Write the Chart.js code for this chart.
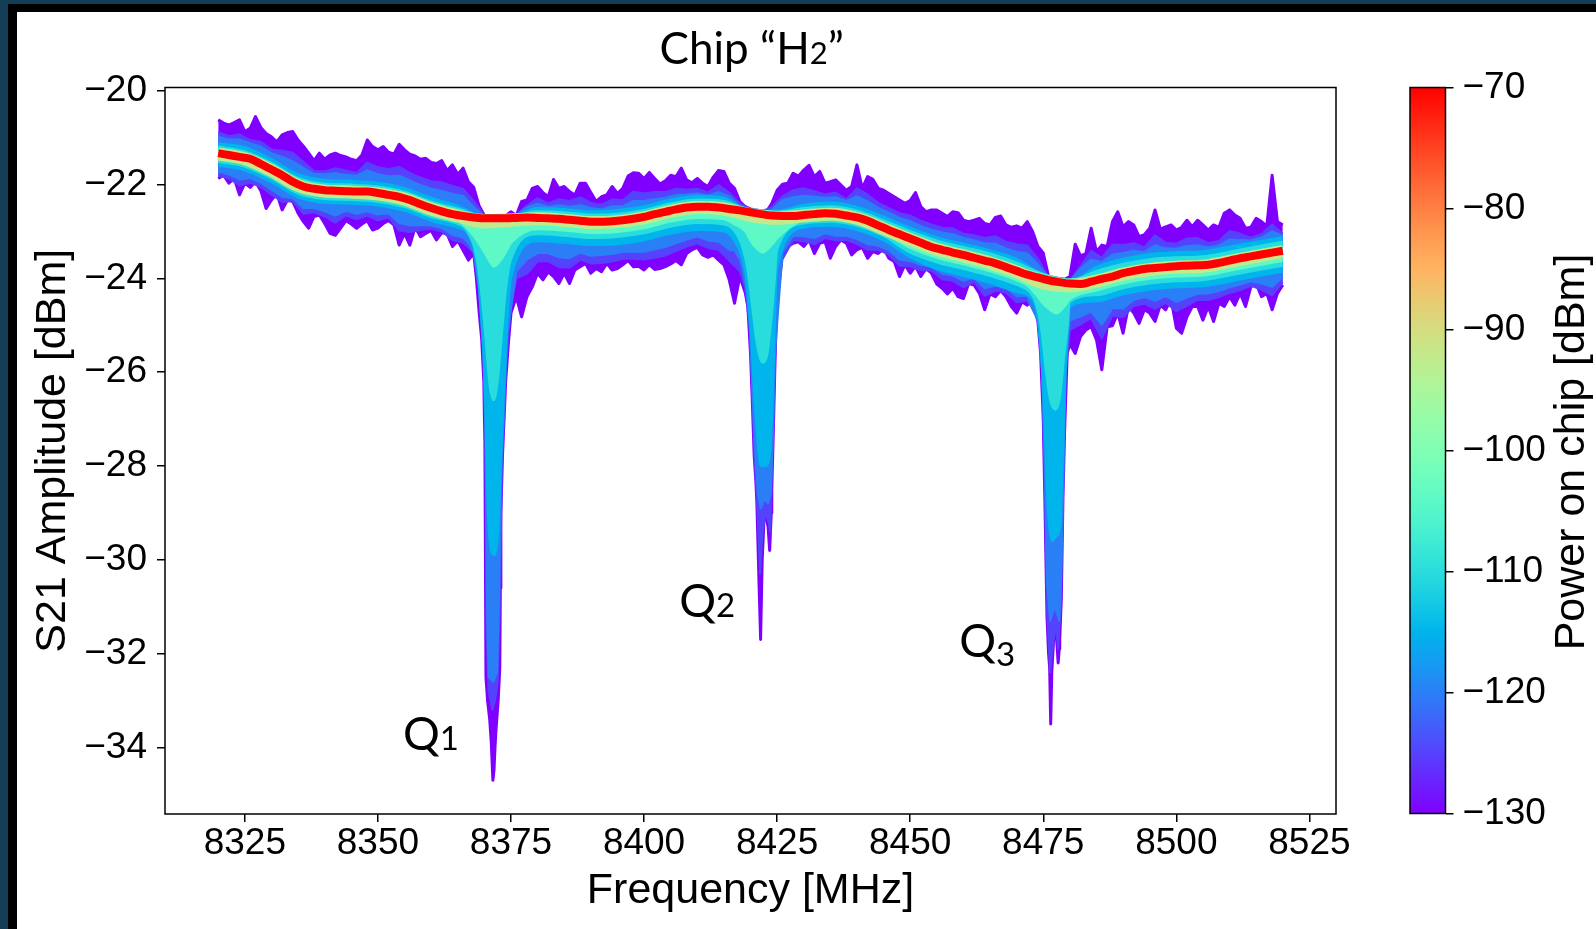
<!DOCTYPE html>
<html>
<head>
<meta charset="utf-8">
<script src="https://cdn.jsdelivr.net/npm/chart.js@4.4.1/dist/chart.umd.min.js"></script>
<style>
  html, body { margin: 0; padding: 0; background: #fff; }
  #page { position: relative; width: 1596px; height: 929px; overflow: hidden; background: #fff; }
  canvas { position: absolute; top: 0; }
  #main { left: 0; }
  #cbar { left: 1400px; }
  .edge { position: absolute; z-index: 5; }
</style>
</head>
<body>
<div id="page">
  <canvas id="main" width="1596" height="929"></canvas>
  <canvas id="cbar" width="196" height="929"></canvas>
  <div class="edge" style="left:0;top:0;width:1596px;height:4px;background:#143e55"></div>
  <div class="edge" style="left:0;top:0;width:8px;height:929px;background:#143e55"></div>
  <div class="edge" style="left:8px;top:4px;width:1588px;height:8px;background:#000"></div>
  <div class="edge" style="left:8px;top:4px;width:9px;height:925px;background:#000"></div>
</div>
<script>
// sweep starts at 8320 MHz; each array below is sampled every `step` MHz from there
const freqStart = 8320;
const xTicks = [8325, 8350, 8375, 8400, 8425, 8450, 8475, 8500, 8525];
const yTicks = [-34, -32, -30, -28, -26, -24, -22, -20];
const powerTicks = [-130, -120, -110, -100, -90, -80, -70];

// -130 dBm: upper / lower envelope of the noisy trace, 1 MHz steps
const hi130 = [
  -20.62,-20.69,-20.73,-20.68,-20.62,-20.87,-20.80,-20.55,-20.78,-20.91,
  -20.98,-21.09,-20.94,-20.89,-20.87,-21.05,-21.18,-21.33,-21.49,-21.33,
  -21.46,-21.37,-21.33,-21.38,-21.41,-21.46,-21.49,-21.37,-21.05,-21.19,
  -21.26,-21.19,-21.31,-21.35,-21.14,-21.26,-21.35,-21.39,-21.46,-21.44,
  -21.53,-21.55,-21.49,-21.70,-21.58,-21.78,-21.65,-21.94,-22.06,-22.45,
  -22.66,-22.66,-22.66,-22.67,-22.67,-22.58,-22.66,-22.36,-22.33,-22.08,
  -22.04,-22.17,-22.26,-21.89,-22.08,-22.04,-22.15,-22.22,-21.97,-21.97,
  -22.17,-22.36,-22.26,-22.22,-22.04,-22.19,-22.08,-21.82,-21.75,-21.76,
  -21.87,-21.74,-21.87,-21.99,-21.92,-21.80,-21.83,-21.65,-21.90,-21.96,
  -21.87,-21.97,-22.04,-21.84,-21.70,-21.72,-21.97,-22.08,-22.36,-22.47,
  -22.52,-22.54,-22.56,-22.58,-22.40,-22.12,-21.99,-21.97,-21.76,-21.82,
  -21.69,-21.59,-21.83,-21.72,-21.97,-21.94,-21.90,-22.01,-22.12,-22.04,
  -21.58,-22.08,-21.83,-21.89,-22.08,-22.12,-22.19,-22.26,-22.33,-22.40,
  -22.34,-22.17,-22.47,-22.58,-22.54,-22.54,-22.61,-22.68,-22.58,-22.60,
  -22.76,-22.79,-22.76,-22.72,-22.83,-22.86,-22.70,-22.67,-22.86,-22.91,
  -22.88,-22.93,-22.79,-23.00,-23.32,-23.46,-23.96,-23.98,-24.00,-24.02,
  -23.96,-23.27,-23.52,-23.47,-22.93,-23.43,-23.29,-23.32,-22.79,-22.58,
  -22.90,-22.79,-22.86,-23.11,-23.07,-22.93,-22.54,-22.95,-22.90,-22.86,
  -22.97,-22.91,-22.76,-22.90,-22.76,-22.86,-22.97,-22.86,-22.91,-22.61,
  -22.54,-22.65,-22.72,-22.93,-22.91,-22.72,-22.79,-22.88,-21.80,-22.79,
  -22.86
];
const lo130 = [
  -21.87,-21.80,-21.97,-21.87,-22.22,-21.97,-22.06,-21.94,-22.13,-22.51,
  -22.33,-22.19,-22.54,-22.33,-22.36,-22.61,-22.79,-22.93,-22.68,-22.65,
  -22.83,-23.04,-23.08,-22.93,-22.77,-22.84,-22.93,-22.84,-22.77,-22.97,
  -22.93,-22.83,-22.77,-22.86,-23.29,-23.04,-23.29,-22.91,-23.11,-23.04,
  -22.98,-23.18,-23.03,-23.05,-23.32,-23.20,-23.40,-23.61,-23.47,-24.70,
  -26.90,-33.40,-34.00,-30.60,-26.20,-24.74,-24.39,-24.82,-24.39,-24.18,
  -23.89,-24.03,-23.86,-23.96,-24.11,-23.89,-24.11,-23.82,-23.75,-23.68,
  -23.89,-23.79,-23.86,-23.68,-23.82,-23.79,-23.71,-23.62,-23.75,-23.74,
  -23.82,-23.71,-23.81,-23.79,-23.75,-23.69,-23.62,-23.71,-23.47,-23.39,
  -23.34,-23.50,-23.55,-23.50,-23.61,-23.71,-24.03,-24.53,-23.96,-24.30,
  -25.60,-28.30,-31.10,-29.10,-28.50,-24.50,-23.38,-23.32,-23.25,-23.22,
  -23.32,-23.18,-23.47,-23.25,-23.22,-23.57,-23.32,-23.18,-23.25,-23.50,
  -23.39,-23.34,-23.57,-23.43,-23.47,-23.36,-23.57,-23.64,-23.96,-23.71,
  -23.89,-23.74,-23.96,-23.79,-23.89,-24.12,-24.21,-24.33,-24.21,-24.39,
  -24.43,-24.11,-24.14,-24.32,-24.67,-24.33,-24.39,-24.26,-24.39,-24.60,
  -24.74,-24.50,-24.57,-24.43,-24.92,-27.00,-32.00,-31.60,-31.90,-27.30,
  -25.40,-25.60,-25.24,-25.10,-25.03,-25.31,-25.95,-25.03,-25.01,-24.74,
  -25.17,-24.60,-24.74,-24.96,-24.67,-24.74,-24.92,-24.57,-24.67,-24.43,
  -25.06,-25.17,-24.82,-24.60,-24.60,-24.89,-24.60,-24.92,-24.53,-24.60,
  -24.39,-24.57,-24.32,-24.60,-24.18,-24.11,-24.39,-24.32,-24.67,-24.32,
  -24.14
];
// extra points inside the three resonances [MHz, dB]
const dip130 = [
  [8368.5,-24.0],[8369.5,-25.3],[8369.9,-26.2],[8370.1,-27.5],[8370.3,-32.5],[8370.6,-33.0],
  [8371.3,-33.9],[8371.6,-34.7],[8371.8,-34.5],[8372.2,-33.6],[8372.6,-33.0],[8372.9,-32.3],
  [8373.1,-29.0],[8373.4,-27.8],[8373.7,-27.0],[8374.5,-25.4],
  [8419.5,-24.6],[8420.3,-26.5],[8420.7,-27.8],[8421.2,-28.8],[8421.6,-30.5],[8421.9,-31.7],
  [8422.2,-30.0],[8422.6,-29.0],[8423.3,-29.3],[8423.6,-29.8],[8423.9,-29.0],[8424.3,-27.2],
  [8424.6,-25.8],[8424.8,-25.0],
  [8474.5,-25.6],[8475.3,-28.7],[8475.7,-31.2],[8476.2,-32.3],[8476.4,-33.5],[8476.6,-32.4],
  [8477.4,-31.5],[8477.8,-32.2],[8478.1,-31.7],[8478.4,-30.8],[8478.7,-28.7],[8479.5,-25.6]
];

// -125 dBm, 2 MHz steps
const hi125 = [
  -20.88,-20.97,-20.93,-21.05,-21.09,-21.25,-21.28,-21.32,-21.52,-21.71,
  -21.72,-21.65,-21.70,-21.75,-21.53,-21.63,-21.67,-21.62,-21.75,-21.85,
  -21.93,-21.95,-22.03,-22.09,-22.35,-22.66,-22.66,-22.66,-22.64,-22.45,
  -22.29,-22.40,-22.31,-22.35,-22.27,-22.39,-22.43,-22.32,-22.33,-22.15,
  -22.19,-22.16,-22.16,-22.09,-22.11,-22.09,-22.17,-22.01,-22.17,-22.40,
  -22.53,-22.57,-22.48,-22.25,-22.12,-22.08,-22.14,-22.21,-22.17,-22.31,
  -22.08,-22.21,-22.39,-22.50,-22.61,-22.66,-22.77,-22.85,-22.92,-22.93,
  -23.05,-23.08,-23.14,-23.10,-23.22,-23.27,-23.30,-23.58,-23.98,-24.02,
  -24.05,-23.74,-23.41,-23.56,-23.28,-23.29,-23.25,-23.34,-23.08,-23.24,
  -23.26,-23.15,-23.14,-23.25,-23.20,-22.99,-23.05,-23.13,-23.05,-22.85,
  -23.05
];
const lo125 = [
  -21.80,-21.87,-22.02,-21.96,-22.05,-22.21,-22.37,-22.35,-22.62,-22.59,
  -22.68,-22.81,-22.66,-22.74,-22.66,-22.76,-22.70,-22.98,-23.01,-22.97,
  -22.94,-23.00,-23.18,-23.24,-23.45,-26.45,-33.00,-26.00,-24.00,-23.90,
  -23.64,-23.63,-23.76,-23.77,-23.60,-23.68,-23.67,-23.64,-23.58,-23.58,
  -23.60,-23.56,-23.51,-23.42,-23.32,-23.25,-23.35,-23.39,-23.62,-23.85,
  -25.50,-29.90,-28.20,-23.60,-23.18,-23.21,-23.27,-23.14,-23.19,-23.18,
  -23.27,-23.39,-23.39,-23.49,-23.73,-23.74,-23.82,-23.83,-24.02,-24.05,
  -24.19,-24.07,-24.37,-24.26,-24.30,-24.51,-24.47,-24.80,-31.70,-31.50,
  -25.10,-24.98,-24.85,-25.28,-24.79,-24.83,-24.59,-24.54,-24.65,-24.52,
  -24.70,-24.58,-24.46,-24.46,-24.40,-24.31,-24.25,-24.16,-24.24,-24.36,
  -24.08
];
const dip125 = [
  [8369,-24.3],[8369.8,-25.6],[8370.2,-27.3],[8370.4,-31.5],[8370.8,-32.8],[8371.5,-33.2],
  [8372.5,-32.6],[8372.9,-31.0],[8373.3,-28.0],[8373.7,-27.0],[8374.3,-25.5],[8375,-24.6],
  [8419,-24.2],[8419.8,-25.0],[8420.3,-26.4],[8420.8,-27.9],[8421.3,-28.9],[8421.8,-30.3],
  [8422.2,-29.5],[8422.8,-29.0],[8423.4,-29.2],[8423.7,-29.4],[8424.1,-27.8],[8424.6,-25.8],
  [8425,-24.6],
  [8474.8,-26.0],[8475.3,-28.5],[8475.7,-31.0],[8476.3,-32.4],[8476.8,-31.8],[8477.4,-31.4],
  [8477.8,-31.9],[8478.3,-31.0],[8478.7,-28.5],[8479.2,-26.0]
];

// -120 dBm, 2 MHz steps
const hi120 = [
  -20.98,-21.04,-21.04,-21.12,-21.19,-21.33,-21.41,-21.50,-21.65,-21.77,
  -21.78,-21.76,-21.79,-21.81,-21.70,-21.78,-21.82,-21.81,-21.91,-22.01,
  -22.09,-22.13,-22.20,-22.24,-22.48,-22.67,-22.67,-22.67,-22.66,-22.48,
  -22.41,-22.47,-22.44,-22.47,-22.44,-22.50,-22.53,-22.46,-22.46,-22.35,
  -22.35,-22.31,-22.28,-22.22,-22.21,-22.19,-22.23,-22.16,-22.25,-22.45,
  -22.54,-22.58,-22.54,-22.33,-22.27,-22.24,-22.26,-22.28,-22.27,-22.35,
  -22.25,-22.36,-22.50,-22.60,-22.71,-22.78,-22.88,-22.96,-23.02,-23.06,
  -23.14,-23.19,-23.25,-23.26,-23.36,-23.43,-23.47,-23.70,-23.99,-24.03,
  -24.06,-23.79,-23.60,-23.65,-23.49,-23.46,-23.41,-23.44,-23.29,-23.36,
  -23.37,-23.31,-23.30,-23.34,-23.30,-23.17,-23.18,-23.19,-23.13,-23.00,
  -23.09
];
const lo120 = [
  -21.72,-21.78,-21.89,-21.86,-21.96,-22.11,-22.26,-22.29,-22.50,-22.50,
  -22.57,-22.66,-22.56,-22.62,-22.57,-22.64,-22.61,-22.82,-22.87,-22.86,
  -22.87,-22.93,-23.07,-23.13,-23.45,-26.35,-32.50,-26.00,-23.85,-23.60,
  -23.46,-23.46,-23.55,-23.57,-23.45,-23.52,-23.50,-23.48,-23.43,-23.43,
  -23.43,-23.38,-23.33,-23.25,-23.17,-23.11,-23.19,-23.22,-23.39,-23.60,
  -25.40,-28.90,-28.00,-23.45,-23.09,-23.10,-23.14,-23.04,-23.09,-23.09,
  -23.16,-23.27,-23.30,-23.40,-23.60,-23.63,-23.71,-23.75,-23.90,-23.94,
  -24.05,-23.98,-24.21,-24.15,-24.20,-24.38,-24.37,-24.90,-30.90,-31.30,
  -24.90,-24.81,-24.71,-24.99,-24.63,-24.64,-24.46,-24.40,-24.48,-24.38,
  -24.50,-24.41,-24.33,-24.32,-24.27,-24.19,-24.13,-24.06,-24.11,-24.18,
  -23.97
];
const dip120 = [
  [8367,-23.25],[8369,-24.2],[8369.8,-25.5],[8370.2,-27.2],[8370.5,-31.0],[8370.8,-32.5],
  [8371.7,-32.6],[8372.4,-32.4],[8372.7,-31.0],[8373.2,-28.0],[8373.7,-26.8],[8374.3,-25.2],
  [8417,-23.4],[8418.5,-23.8],[8419.3,-24.3],[8419.9,-25.1],[8420.4,-26.5],[8420.9,-27.8],
  [8421.4,-28.6],[8421.9,-28.9],[8422.6,-28.7],[8423.3,-28.8],[8423.8,-28.6],[8424.2,-27.4],
  [8424.6,-25.6],
  [8472.5,-24.55],[8474.8,-26.0],[8475.3,-28.0],[8475.7,-30.5],[8476.3,-31.3],[8477.2,-31.0],
  [8478.4,-30.3],[8478.8,-28.2],[8479.2,-26.0],[8479.7,-25.2]
];

// -115 dBm, 5 MHz steps
const hi115 = [
  -21.12,-21.20,-21.46,-21.78,-21.90,-21.92,-21.96,-22.07,-22.28,-22.45,
  -22.69,-22.68,-22.50,-22.52,-22.57,-22.54,-22.46,-22.32,-22.24,-22.28,
  -22.57,-22.56,-22.43,-22.38,-22.47,-22.68,-22.92,-23.12,-23.26,-23.40,
  -23.58,-23.93,-24.07,-23.75,-23.58,-23.48,-23.44,-23.42,-23.32,-23.22,
  -23.12
];
const lo115 = [
  -21.60,-21.70,-21.95,-22.27,-22.39,-22.41,-22.45,-22.56,-22.77,-22.92,
  -26.00,-24.00,-23.21,-23.24,-23.29,-23.27,-23.19,-23.05,-22.97,-23.00,
  -25.00,-23.80,-22.92,-22.88,-22.97,-23.19,-23.55,-23.80,-23.95,-24.10,
  -24.29,-26.50,-24.60,-24.49,-24.34,-24.24,-24.19,-24.17,-24.07,-23.96,
  -23.86
];
const dip115 = [
  [8366.5,-23.0],[8368,-23.35],[8368.8,-23.9],[8369.5,-25.0],[8370.1,-26.4],[8370.4,-28.0],
  [8370.9,-29.5],[8371.8,-29.9],[8372.6,-29.4],[8373.1,-28.0],[8373.6,-26.6],[8374.3,-25.0],
  [8417,-23.2],[8418.5,-23.6],[8419.3,-24.1],[8419.9,-24.9],[8420.5,-26.1],[8421.2,-27.3],
  [8421.9,-28.0],[8422.8,-28.0],[8423.6,-27.8],[8424.1,-26.8],[8424.5,-25.3],
  [8472.5,-24.4],[8473.8,-24.75],[8474.6,-25.6],[8475.2,-27.0],[8475.8,-28.8],[8476.6,-29.6],
  [8477.5,-29.5],[8478.2,-29.3],[8478.7,-27.8],[8479.2,-25.9],[8479.7,-25.0]
];

// -110 dBm, 5 MHz steps
const hi110 = [
  -21.19,-21.29,-21.54,-21.86,-21.98,-22.00,-22.04,-22.15,-22.36,-22.51,
  -22.66,-22.66,-22.57,-22.59,-22.64,-22.62,-22.54,-22.40,-22.32,-22.35,
  -22.54,-22.58,-22.50,-22.46,-22.55,-22.76,-22.99,-23.19,-23.33,-23.47,
  -23.66,-23.90,-24.04,-23.84,-23.69,-23.59,-23.55,-23.53,-23.43,-23.32,
  -23.22
];
const lo110 = [
  -21.52,-21.62,-21.87,-22.19,-22.31,-22.33,-22.37,-22.48,-22.69,-22.84,
  -25.00,-23.60,-23.06,-23.09,-23.14,-23.12,-23.04,-22.90,-22.82,-22.85,
  -24.30,-23.40,-22.83,-22.79,-22.88,-23.10,-23.45,-23.66,-23.80,-23.95,
  -24.14,-25.45,-24.50,-24.36,-24.21,-24.11,-24.06,-24.04,-23.94,-23.83,
  -23.73
];
const dip110 = [
  [8366.5,-22.95],[8368,-23.3],[8368.8,-23.75],[8369.5,-24.4],[8370.3,-25.4],[8371.0,-26.3],
  [8371.8,-26.6],[8372.6,-26.1],[8373.3,-25.2],[8374,-24.3],
  [8417,-23.0],[8418.5,-23.35],[8419.4,-23.8],[8420.3,-24.6],[8421.2,-25.4],[8422.2,-25.8],
  [8423.2,-25.6],[8424,-24.8],[8424.6,-24.0],
  [8472.5,-24.3],[8473.5,-24.5],[8474.5,-25.0],[8475.4,-25.9],[8476.3,-26.6],[8477.3,-26.8],
  [8478.2,-26.5],[8478.9,-25.7],[8479.6,-25.0]
];

// -104 dBm, 5 MHz steps
const hi104 = [
  -21.24,-21.34,-21.59,-21.91,-22.03,-22.05,-22.09,-22.20,-22.41,-22.56,
  -22.65,-22.64,-22.62,-22.65,-22.70,-22.68,-22.60,-22.46,-22.38,-22.41,
  -22.52,-22.58,-22.56,-22.52,-22.61,-22.83,-23.06,-23.27,-23.41,-23.56,
  -23.75,-23.92,-24.02,-23.95,-23.80,-23.70,-23.65,-23.63,-23.53,-23.42,
  -23.32
];
const lo104 = [
  -21.46,-21.56,-21.81,-22.13,-22.25,-22.27,-22.31,-22.42,-22.63,-22.78,
  -23.45,-23.25,-22.95,-22.98,-23.03,-23.01,-22.93,-22.79,-22.71,-22.74,
  -23.20,-23.15,-22.76,-22.72,-22.81,-23.03,-23.35,-23.56,-23.70,-23.85,
  -24.04,-24.55,-24.45,-24.26,-24.11,-24.01,-23.96,-23.94,-23.84,-23.73,
  -23.63
];
const dip104 = [
  [8366,-22.85],[8368,-23.1],[8370.5,-23.55],[8371.8,-23.75],[8373.2,-23.6],[8374.5,-23.35],
  [8417,-22.85],[8419,-23.0],[8421,-23.35],[8422.3,-23.45],[8423.5,-23.35],[8424.3,-23.25],
  [8472,-24.15],[8474,-24.4],[8476,-24.65],[8477.5,-24.75],[8479,-24.6]
];

// -92 dBm, 5 MHz steps
const trace92 = [
  -21.35,-21.45,-21.70,-22.02,-22.14,-22.16,-22.20,-22.31,-22.52,-22.67,
  -22.80,-22.76,-22.73,-22.76,-22.81,-22.79,-22.71,-22.57,-22.49,-22.52,
  -22.66,-22.72,-22.67,-22.63,-22.72,-22.94,-23.17,-23.38,-23.52,-23.67,
  -23.86,-24.10,-24.16,-24.06,-23.91,-23.81,-23.76,-23.74,-23.64,-23.53,
  -23.43
];

// -70 dBm, 2 MHz steps
const trace70 = [
  -21.33,-21.37,-21.41,-21.45,-21.56,-21.68,-21.80,-21.94,-22.04,-22.09,
  -22.12,-22.13,-22.14,-22.15,-22.15,-22.18,-22.22,-22.26,-22.33,-22.42,
  -22.50,-22.57,-22.63,-22.67,-22.70,-22.72,-22.72,-22.72,-22.71,-22.70,
  -22.71,-22.72,-22.73,-22.75,-22.77,-22.79,-22.79,-22.78,-22.76,-22.73,
  -22.69,-22.63,-22.58,-22.53,-22.49,-22.47,-22.47,-22.49,-22.52,-22.55,
  -22.59,-22.63,-22.66,-22.67,-22.67,-22.65,-22.63,-22.61,-22.62,-22.66,
  -22.70,-22.77,-22.87,-22.97,-23.06,-23.15,-23.24,-23.33,-23.39,-23.45,
  -23.50,-23.56,-23.62,-23.68,-23.76,-23.84,-23.92,-23.98,-24.04,-24.08,
  -24.11,-24.12,-24.07,-24.01,-23.96,-23.89,-23.84,-23.80,-23.78,-23.76,
  -23.74,-23.73,-23.72,-23.71,-23.67,-23.62,-23.57,-23.53,-23.49,-23.45,
  -23.41
];

// resonator labels, anchored in data coordinates
const qLabels = [
  {n: '1', f: 8354.7, db: -34.06},
  {n: '2', f: 8406.6, db: -31.22},
  {n: '3', f: 8459.2, db: -32.08}
];

// matplotlib "rainbow" colormap
function rainbow(t) {
  const r = Math.min(1, Math.abs(2 * t - 0.5));
  const g = Math.sin(Math.PI * t);
  const b = Math.cos(Math.PI * t / 2);
  return `rgb(${Math.round(r * 255)},${Math.round(g * 255)},${Math.round(b * 255)})`;
}
const powerColor = p => rainbow((p + 130) / 60);

function pts(values, step, extra) {
  const out = values.map((v, i) => ({x: freqStart + i * step, y: v}));
  if (extra) extra.forEach(([x, y]) => out.push({x, y}));
  return out.sort((a, b) => a.x - b.x);
}

function band(power, hi, lo, step, dips, order, width, smooth) {
  const c = powerColor(power);
  const common = {
    borderColor: c, backgroundColor: c, pointRadius: 0, borderWidth: width,
    borderJoinStyle: 'round', borderCapStyle: 'butt', order: order
  };
  if (smooth) common.cubicInterpolationMode = 'monotone';
  return [
    {...common, label: power + ' dBm max', data: pts(hi, step), fill: false},
    {...common, label: power + ' dBm min', data: pts(lo, step, dips), fill: '-1'}
  ];
}

function trace(power, values, step, order, width) {
  const c = powerColor(power);
  return {
    label: power + ' dBm', data: pts(values, step), borderColor: c, backgroundColor: c,
    borderWidth: width, pointRadius: 0, fill: false, order: order,
    cubicInterpolationMode: 'monotone', borderCapStyle: 'butt'
  };
}

const datasets = [
  ...band(-130, hi130, lo130, 1, dip130, 8, 3, false),
  ...band(-125, hi125, lo125, 2, dip125, 7, 2, false),
  ...band(-120, hi120, lo120, 2, dip120, 6, 2, false),
  ...band(-115, hi115, lo115, 5, dip115, 5, 2, true),
  ...band(-110, hi110, lo110, 5, dip110, 4, 2, true),
  ...band(-104, hi104, lo104, 5, dip104, 3, 2, true),
  trace(-92, trace92, 5, 2, 13),
  trace(-70, trace70, 2, 1, 8)
];

const minus = v => (v < 0 ? '\u2212' + Math.abs(v) : String(v));
const tickFont = {family: 'Liberation Sans', size: 37};
const titleFont = {family: 'Liberation Sans', size: 43};
const tickGrid = {drawOnChartArea: false, drawTicks: true, tickLength: 8, color: '#000', lineWidth: 1.5};

// text with a smaller, old-style figure after it
function drawRuns(ctx, x, y, runs, centered) {
  const widths = runs.map(([t, s]) => { ctx.font = s + 'px Lato'; return ctx.measureText(t).width; });
  let cx = centered ? x - widths.reduce((a, b) => a + b, 0) / 2 : x;
  runs.forEach(([t, s, dy], i) => {
    ctx.font = s + 'px Lato';
    ctx.fillText(t, cx, y + (dy || 0));
    cx += widths[i];
  });
}

const decorations = {
  id: 'decorations',
  afterDraw(chart) {
    const {ctx, chartArea: a, scales} = chart;
    ctx.save();
    ctx.strokeStyle = '#000';
    ctx.lineWidth = 1.5;
    ctx.strokeRect(a.left, a.top, a.right - a.left, a.bottom - a.top);
    ctx.fillStyle = '#000';
    ctx.textAlign = 'left';
    ctx.textBaseline = 'alphabetic';
    drawRuns(ctx, 751.7, 64, [['Chip \u201cH', 44], ['2', 31], ['\u201d', 44]], true);
    qLabels.forEach(q => {
      const x = scales.x.getPixelForValue(q.f);
      const y = scales.y.getPixelForValue(q.db);
      drawRuns(ctx, x, y, [['Q', 46], [q.n, 33, q.n === '3' ? 9 : 0]], false);
    });
    ctx.restore();
  }
};

new Chart(document.getElementById('main'), {
  type: 'line',
  data: {datasets},
  options: {
    responsive: false,
    animation: false,
    devicePixelRatio: 1,
    layout: {padding: {left: 10, top: 87.5, right: 260, bottom: 10}},
    plugins: {legend: {display: false}, tooltip: {enabled: false}},
    scales: {
      x: {
        type: 'linear', min: 8310, max: 8530,
        afterBuildTicks: s => { s.ticks = xTicks.map(v => ({value: v})); },
        afterFit: s => { s.height = 105; },
        grid: tickGrid,
        border: {display: false},
        ticks: {font: tickFont, color: '#000', padding: 0, maxRotation: 0, autoSkip: false, callback: v => String(v)},
        title: {display: true, text: 'Frequency [MHz]', font: titleFont, color: '#000', padding: {top: 0, bottom: 2}}
      },
      y: {
        type: 'linear', min: -35.42, max: -19.93,
        afterBuildTicks: s => { s.ticks = yTicks.map(v => ({value: v})); },
        afterFit: s => { s.width = 155; },
        grid: tickGrid,
        border: {display: false},
        ticks: {font: tickFont, color: '#000', padding: 10, callback: minus},
        title: {display: true, text: 'S21 Amplitude [dBm]', font: titleFont, color: '#000', padding: {top: 17, bottom: 0}}
      }
    }
  },
  plugins: [decorations]
});

// colour bar
const cbarDecor = {
  id: 'cbarDecor',
  afterDraw(chart) {
    const {ctx, chartArea: a} = chart;
    ctx.save();
    ctx.strokeStyle = '#000';
    ctx.lineWidth = 1.5;
    ctx.strokeRect(a.left, a.top, a.right - a.left, a.bottom - a.top);
    ctx.translate(172.6, 452);
    ctx.rotate(-Math.PI / 2);
    ctx.fillStyle = '#000';
    ctx.font = '43px "Liberation Sans"';
    ctx.textAlign = 'center';
    ctx.textBaseline = 'middle';
    ctx.fillText('Power on chip [dBm]', 0, 0);
    ctx.restore();
  }
};

new Chart(document.getElementById('cbar'), {
  type: 'bar',
  data: {
    labels: ['power'],
    datasets: [{
      data: [[powerTicks[0], powerTicks[powerTicks.length - 1]]],
      backgroundColor: c => {
        const a = c.chart.chartArea;
        if (!a) return 'rgba(0,0,0,0)';
        const g = c.chart.ctx.createLinearGradient(0, a.bottom, 0, a.top);
        for (let i = 0; i <= 20; i++) g.addColorStop(i / 20, rainbow(i / 20));
        return g;
      },
      borderWidth: 0,
      categoryPercentage: 1,
      barPercentage: 1
    }]
  },
  options: {
    responsive: false,
    animation: false,
    devicePixelRatio: 1,
    layout: {padding: {left: 10, top: 87.5, right: 0, bottom: 115.5}},
    plugins: {legend: {display: false}, tooltip: {enabled: false}},
    scales: {
      x: {display: false},
      y: {
        position: 'right', min: -130, max: -70,
        afterBuildTicks: s => { s.ticks = powerTicks.map(v => ({value: v})); },
        afterFit: s => { s.width = 150.5; },
        grid: tickGrid,
        border: {display: false},
        ticks: {font: tickFont, color: '#000', padding: 9, callback: minus}
      }
    }
  },
  plugins: [cbarDecor]
});
</script>
</body>
</html>
